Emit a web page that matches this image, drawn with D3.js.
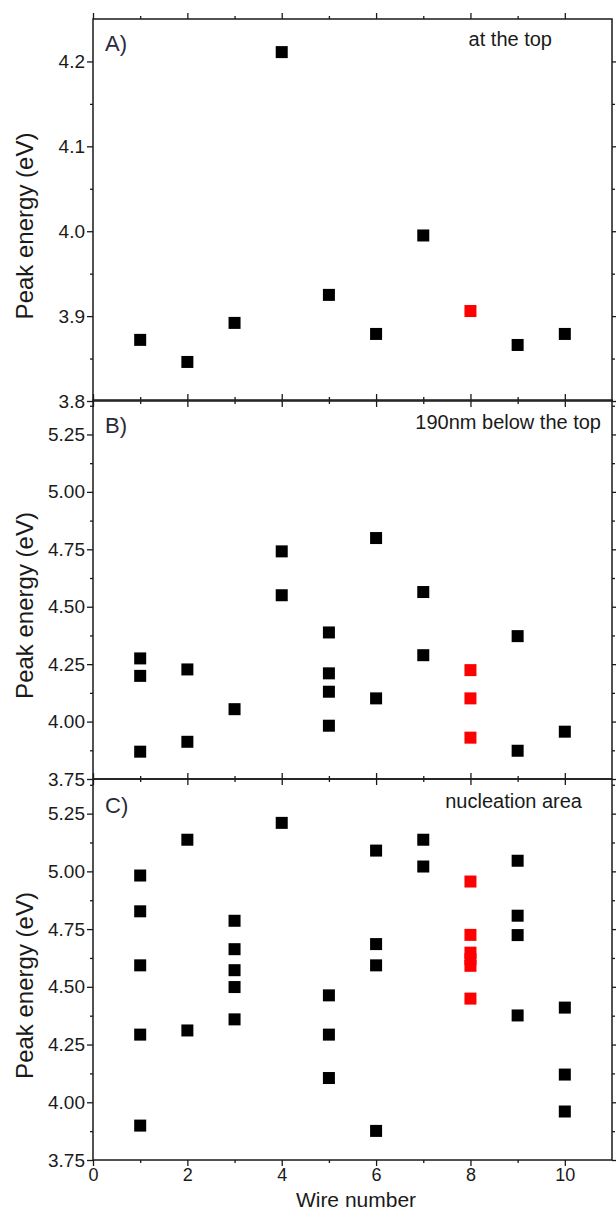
<!DOCTYPE html>
<html>
<head>
<meta charset="utf-8">
<script src="https://cdn.jsdelivr.net/npm/d3@7"></script>
<style>
  html, body { margin: 0; padding: 0; background: #fff; }
  svg { display: block; font-family: "Liberation Sans", Arial, sans-serif; }
</style>
</head>
<body>
<svg id="chart" width="616" height="1212"></svg>
<script>
// ---------------- data ----------------
const wireMajorTicks = [0, 2, 4, 6, 8, 10];
const wireMinorTicks = [1, 3, 5, 7, 9];

const aMajorTicks = [3.8, 3.9, 4.0, 4.1, 4.2];
const aMinorTicks = [3.85, 3.95, 4.05, 4.15];
const bcMajorTicks = [3.75, 4.00, 4.25, 4.50, 4.75, 5.00, 5.25];
const bcMinorTicks = [3.875, 4.125, 4.375, 4.625, 4.875, 5.125, 5.375];

// Panel A: at the top
const aBlackWire   = [1, 2, 3, 4, 5, 6, 7, 9, 10];
const aBlackEnergy = [3.872, 3.846, 3.892, 4.211, 3.925, 3.879, 3.995, 3.866, 3.879];
const aRedWire     = [8];
const aRedEnergy   = [3.906];

// Panel B: 190nm below the top
const bBlackWire   = [1, 1, 1, 2, 2, 3, 4, 4, 5, 5, 5, 5, 6, 6, 7, 7, 9, 9, 10];
const bBlackEnergy = [4.275, 4.199, 3.869, 4.227, 3.912, 4.054, 4.741, 4.550, 4.388, 4.210, 4.130, 3.982,
                      4.799, 4.101, 4.564, 4.289, 4.372, 3.873, 3.956];
const bRedWire     = [8, 8, 8];
const bRedEnergy   = [4.224, 4.101, 3.930];

// Panel C: nucleation area
const cBlackWire   = [1, 1, 1, 1, 1, 2, 2, 3, 3, 3, 3, 3, 4, 5, 5, 5, 6, 6, 6, 6, 7, 7, 9, 9, 9, 9, 10, 10, 10];
const cBlackEnergy = [4.982, 4.827, 4.593, 4.293, 3.899, 5.137, 4.311, 4.786, 4.663, 4.572, 4.499, 4.359,
                      5.210, 4.463, 4.293, 4.105, 5.090, 4.685, 4.593, 3.876, 5.137, 5.021,
                      5.046, 4.808, 4.724, 4.376, 4.410, 4.120, 3.960];
const cRedWire     = [8, 8, 8, 8, 8, 8];
const cRedEnergy   = [4.956, 4.725, 4.648, 4.620, 4.591, 4.449];

// ---------------- layout ----------------
const svg = d3.select("#chart");
const left = 93, right = 612;
const ink = "#1a1a1a";

const x = d3.scaleLinear().domain([0, 11]).range([left, right]);

const panels = [
  { top: 19,  bottom: 401,  domain: [3.8, 4.25], majors: aMajorTicks, minors: aMinorTicks,
    fmt: d3.format(".1f"), label: "A)", note: "at the top", noteX: 552, noteY: 46, labelY: 51,
    black: [aBlackWire, aBlackEnergy], red: [aRedWire, aRedEnergy] },
  { top: 400, bottom: 779,  domain: [3.75, 5.4], majors: bcMajorTicks, minors: bcMinorTicks,
    fmt: d3.format(".2f"), label: "B)", note: "190nm below the top", noteX: 601, noteY: 429, labelY: 433,
    black: [bBlackWire, bBlackEnergy], red: [bRedWire, bRedEnergy] },
  { top: 779, bottom: 1160, domain: [3.75, 5.4], majors: bcMajorTicks, minors: bcMinorTicks,
    fmt: d3.format(".2f"), label: "C)", note: "nucleation area", noteX: 582, noteY: 808, labelY: 813,
    black: [cBlackWire, cBlackEnergy], red: [cRedWire, cRedEnergy] }
];

function styleAxis(g, size) {
  g.select(".domain").remove();
  g.selectAll(".tick line").attr("stroke", ink).attr("stroke-width", 1.3);
  g.selectAll(".tick text").attr("fill", ink).style("font-size", (size || 19) + "px")
    .style("font-family", '"Liberation Sans", Arial, sans-serif');
}

const markerSize = 12;

panels.forEach((p, i) => {
  const y = d3.scaleLinear().domain(p.domain).range([p.bottom, p.top]);
  const g = svg.append("g");

  // left axis (major + minor)
  g.append("g").attr("transform", `translate(${left},0)`)
    .call(d3.axisLeft(y).tickValues(p.majors).tickSize(6).tickPadding(2).tickFormat(p.fmt))
    .call(styleAxis);
  g.append("g").attr("transform", `translate(${left},0)`)
    .call(d3.axisLeft(y).tickValues(p.minors).tickSize(3).tickFormat(""))
    .call(styleAxis);
  // right axis
  g.append("g").attr("transform", `translate(${right},0)`)
    .call(d3.axisRight(y).tickValues(p.majors).tickSize(6).tickFormat(""))
    .call(styleAxis);
  g.append("g").attr("transform", `translate(${right},0)`)
    .call(d3.axisRight(y).tickValues(p.minors).tickSize(3).tickFormat(""))
    .call(styleAxis);
  // top axis
  g.append("g").attr("transform", `translate(0,${p.top})`)
    .call(d3.axisTop(x).tickValues(wireMajorTicks).tickSize(6).tickFormat(""))
    .call(styleAxis);
  g.append("g").attr("transform", `translate(0,${p.top})`)
    .call(d3.axisTop(x).tickValues(wireMinorTicks).tickSize(3).tickFormat(""))
    .call(styleAxis);
  // bottom axis
  g.append("g").attr("transform", `translate(0,${p.bottom})`)
    .call(d3.axisBottom(x).tickValues(wireMajorTicks).tickSize(6).tickPadding(2)
      .tickFormat(i === 2 ? d3.format("d") : ""))
    .call(g2 => styleAxis(g2, 18));
  g.append("g").attr("transform", `translate(0,${p.bottom})`)
    .call(d3.axisBottom(x).tickValues(wireMinorTicks).tickSize(3).tickFormat(""))
    .call(styleAxis);

  // frame
  g.append("rect")
    .attr("x", left).attr("y", p.top)
    .attr("width", right - left).attr("height", p.bottom - p.top)
    .attr("fill", "none").attr("stroke", ink).attr("stroke-width", 1.5);

  // points
  const blk = p.black[0].map((w, k) => ({ w, e: p.black[1][k] }));
  const red = p.red[0].map((w, k) => ({ w, e: p.red[1][k] }));
  g.selectAll(".blk").data(blk).join("rect")
    .attr("x", d => x(d.w) - markerSize / 2)
    .attr("y", d => y(d.e) - markerSize / 2)
    .attr("width", markerSize).attr("height", markerSize)
    .attr("fill", "#000");
  g.selectAll(".red").data(red).join("rect")
    .attr("x", d => x(d.w) - markerSize / 2)
    .attr("y", d => y(d.e) - markerSize / 2)
    .attr("width", markerSize).attr("height", markerSize)
    .attr("fill", "#ff0000");

  // panel letter and note
  g.append("text").attr("x", 105).attr("y", p.labelY)
    .attr("fill", "#2a2a3a").style("font-size", "22px").text(p.label);
  g.append("text").attr("x", p.noteX).attr("y", p.noteY)
    .attr("text-anchor", "end").attr("fill", ink).style("font-size", "20px").text(p.note);

  // y title
  const cy = (p.top + p.bottom) / 2 + 16;
  g.append("text")
    .attr("transform", `translate(33,${cy}) rotate(-90)`)
    .attr("text-anchor", "middle").attr("fill", ink)
    .style("font-size", "24px").text("Peak energy (eV)");
});

// x title
svg.append("text")
  .attr("x", 356).attr("y", 1207)
  .attr("text-anchor", "middle").attr("fill", ink)
  .style("font-size", "21px").text("Wire number");
</script>
</body>
</html>
